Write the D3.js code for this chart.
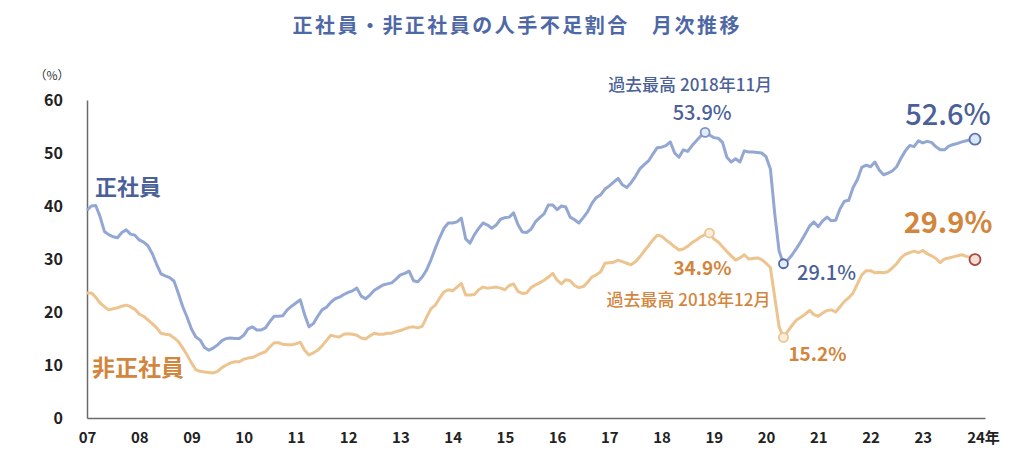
<!DOCTYPE html>
<html><head><meta charset="utf-8">
<script src="https://cdn.jsdelivr.net/npm/d3@7"></script>
<style>
html,body{margin:0;padding:0;background:#fff;}
svg{display:block;}
text{font-family:"Noto Sans CJK JP","Noto Sans",sans-serif;}
</style></head>
<body>
<svg id="chart" width="1024" height="462"></svg>
<script>
// Monthly series, Jan 2007 (index 0) .. Jan 2024 (index 204)
const seishain = [
39.2,40.0,40.1,38.0,35.2,34.6,34.2,34.0,35.0,35.5,34.7,34.5,
33.6,33.2,32.5,31.0,29.0,27.2,26.8,26.5,25.8,23.5,21.0,19.0,
16.8,15.3,14.7,13.3,12.8,13.2,13.8,14.6,15.0,15.1,15.0,15.0,
15.6,16.8,17.2,16.6,16.6,17.0,18.2,19.2,19.2,19.3,20.4,21.1,
21.7,22.3,19.5,17.2,17.8,19.2,20.4,20.9,21.8,22.5,22.8,23.3,
23.7,24.0,24.5,23.0,22.5,23.2,24.1,24.6,25.1,25.3,25.5,26.2,
27.0,27.3,27.7,25.9,25.7,26.6,27.9,29.8,32.0,34.0,35.8,36.8,
36.8,37.0,37.7,33.8,33.0,34.6,35.8,36.8,36.4,35.8,36.4,37.5,
37.8,37.9,38.7,36.5,35.1,35.0,35.6,37.0,37.8,38.5,40.2,40.2,
39.3,40.0,39.8,37.9,37.4,36.8,37.8,38.9,40.5,41.6,42.1,43.2,
43.8,44.5,45.2,44.0,43.5,44.4,45.6,47.0,47.8,48.5,49.8,51.0,
51.1,51.4,52.1,50.0,49.2,50.6,50.3,51.4,52.3,53.2,53.9,53.4,
52.9,52.8,52.0,49.2,48.3,48.9,48.3,50.4,50.2,50.2,50.1,50.0,
49.3,47.0,38.5,31.5,29.1,29.8,30.8,32.0,33.3,34.7,36.2,37.0,
36.1,37.2,37.9,37.2,37.3,39.5,40.9,41.1,43.5,45.0,47.3,47.7,
47.4,48.3,46.8,45.9,46.2,46.6,47.4,49.0,50.4,51.4,51.2,52.3,
51.9,52.2,52.0,51.2,50.6,50.6,51.3,51.6,51.8,52.1,52.3,52.5,
52.6];
const hiseishain = [
23.6,23.6,22.8,21.7,21.0,20.4,20.6,20.8,21.1,21.3,21.0,20.5,
19.6,19.2,18.5,17.8,17.0,16.0,15.8,15.7,15.1,14.4,13.2,11.9,
10.4,9.1,8.8,8.7,8.6,8.5,8.8,9.5,10.0,10.4,10.6,10.6,
11.1,11.3,11.4,11.8,12.2,12.5,13.4,14.2,14.2,13.9,13.8,13.8,
14.0,14.3,12.8,11.9,12.3,12.8,13.6,14.6,15.6,15.4,15.3,15.8,
15.9,15.8,15.6,15.1,14.9,15.5,16.0,15.8,15.8,16.0,16.0,16.3,
16.5,16.8,17.1,17.2,17.0,17.3,19.0,20.6,21.3,22.6,23.8,24.2,
24.0,24.7,25.4,23.2,23.2,23.3,24.2,24.7,24.5,24.6,24.7,24.5,
24.2,25.0,25.3,23.9,23.5,23.6,24.6,25.1,25.5,26.0,26.6,27.3,
26.0,25.3,26.1,25.9,25.0,24.6,24.8,25.6,26.6,27.0,27.6,29.2,
29.3,29.4,29.8,29.5,29.2,28.9,29.5,30.4,31.5,32.5,33.6,34.5,
34.3,33.6,33.0,32.3,31.7,31.9,32.4,33.1,33.6,34.2,34.6,34.9,
33.8,33.2,32.3,31.4,30.6,29.8,30.2,30.8,30.0,30.1,30.2,29.9,
29.2,28.4,22.8,17.2,15.2,16.4,17.5,18.5,19.0,19.6,20.3,19.5,
19.2,19.8,20.3,20.4,20.0,21.0,22.0,22.7,23.6,25.3,27.0,27.8,
27.8,27.4,27.5,27.4,27.6,28.3,29.1,30.2,30.9,31.2,31.5,31.2,
31.6,31.0,30.6,30.1,29.3,30.0,30.2,30.4,30.6,30.8,30.5,30.3,
29.9];
const yearLabels = ["07","08","09","10","11","12","13","14","15","16","17","18","19","20","21","22","23","24年"];
const yTicks = [0,10,20,30,40,50,60];
const title = "正社員・非正社員の人手不足割合　月次推移";
const seriesNames = ["正社員","非正社員"];
const peakIdx = [142,143];
const troughIdx = [160,160];
const peakNotes = ["過去最高 2018年11月","過去最高 2018年12月"];

const svg = d3.select("#chart");
const x = d3.scaleLinear().domain([0,206.3]).range([87,985]);
const y = d3.scaleLinear().domain([0,60]).range([418,100]);

const BLUE_LINE="#93a7d3", ORANGE_LINE="#edc48f";
const BLUE_TXT="#4b5f98", ORANGE_TXT="#d2853c";

// title
svg.append("text").attr("x",516).attr("y",33).attr("text-anchor","middle")
  .attr("font-size",20).attr("font-weight",700).attr("fill","#4e68a6")
  .attr("textLength",447).attr("lengthAdjust","spacing").text(title);

// axes
const yAxis = d3.axisLeft(y).tickValues(yTicks).tickSize(0).tickPadding(24).tickFormat(d3.format("d"));
const gy = svg.append("g").attr("transform","translate(87,0)").call(yAxis);
gy.select(".domain").attr("stroke","#6b6b6b").attr("stroke-width",1.5);
gy.selectAll("text").attr("font-family","Liberation Sans, Arial, sans-serif").attr("font-size",16)
  .attr("font-weight",700).attr("fill","#222");

const xAxis = d3.axisBottom(x).tickValues(yearLabels.map((d,i)=>i*12)).tickSize(0).tickPadding(14)
  .tickFormat((d,i)=>yearLabels[i]);
const gx = svg.append("g").attr("transform","translate(0,418)").call(xAxis);
gx.select(".domain").attr("stroke","#6b6b6b").attr("stroke-width",1.5);
gx.selectAll("text").attr("font-family","Liberation Sans Narrow, Arial Narrow, Liberation Sans, sans-serif")
  .attr("font-size",15).attr("font-weight",700).attr("fill","#222");
gx.selectAll(".tick:last-child text").attr("dx",8);

svg.append("text").attr("x",52).attr("y",80).attr("text-anchor","middle")
  .attr("font-size",12).attr("fill","#333").text("（%）");

// lines
const line = d3.line().x((d,i)=>x(i)).y(d=>y(d));
svg.append("path").datum(hiseishain).attr("d",line).attr("fill","none")
  .attr("stroke",ORANGE_LINE).attr("stroke-width",3).attr("stroke-linejoin","round");
svg.append("path").datum(seishain).attr("d",line).attr("fill","none")
  .attr("stroke",BLUE_LINE).attr("stroke-width",3).attr("stroke-linejoin","round");

// series labels
svg.append("text").attr("x",95).attr("y",195).attr("font-size",22).attr("font-weight",700)
  .attr("fill",BLUE_TXT).text(seriesNames[0]);
svg.append("text").attr("x",92).attr("y",376).attr("font-size",23).attr("font-weight",700)
  .attr("fill",ORANGE_TXT).text(seriesNames[1]);

// markers
function marker(i, arr, fill, stroke, r){
  svg.append("circle").attr("cx",x(i)).attr("cy",y(arr[i])).attr("r",r)
    .attr("fill",fill).attr("stroke",stroke).attr("stroke-width",1.8);
}
marker(peakIdx[0], seishain, "#e3ebf6", "#7d93c6", 4.5);
marker(peakIdx[1], hiseishain, "#fbeede", "#ebc592", 4.5);
marker(troughIdx[0], seishain, "#e3ebf6", "#4f67a3", 4.5);
marker(troughIdx[1], hiseishain, "#fbeede", "#ebc592", 4.5);
marker(204, seishain, "#d9e7f6", "#5a73ae", 5.5);
marker(204, hiseishain, "#f7ddd6", "#a9473d", 5.5);

// annotations
function label(tx, ty, txt, size, color, anchor, weight){
  svg.append("text").attr("x",tx).attr("y",ty).attr("text-anchor",anchor||"middle")
    .attr("font-size",size).attr("fill",color).attr("font-weight",weight||500).text(txt);
}
const px = x(peakIdx[0]);
label(px-15, 91, peakNotes[0], 17, BLUE_TXT, "middle", 500);
label(px-3, 120, seishain[peakIdx[0]].toFixed(1)+"%", 20, BLUE_TXT, "middle", 500);
label(x(peakIdx[1])-7, 275, hiseishain[peakIdx[1]].toFixed(1)+"%", 19, ORANGE_TXT, "middle", 700);
label(x(peakIdx[1])-21, 306, peakNotes[1], 17, ORANGE_TXT, "middle", 500);
label(x(troughIdx[0])+43, 280, seishain[troughIdx[0]].toFixed(1)+"%", 20, BLUE_TXT, "middle", 500);
label(x(troughIdx[1])+34, 361, hiseishain[troughIdx[1]].toFixed(1)+"%", 19, ORANGE_TXT, "middle", 700);
label(x(204)-27, 125, seishain[204].toFixed(1)+"%", 29, BLUE_TXT, "middle", 500);
label(x(204)-27, 233, hiseishain[204].toFixed(1)+"%", 29, ORANGE_TXT, "middle", 700);
</script>
</body></html>
